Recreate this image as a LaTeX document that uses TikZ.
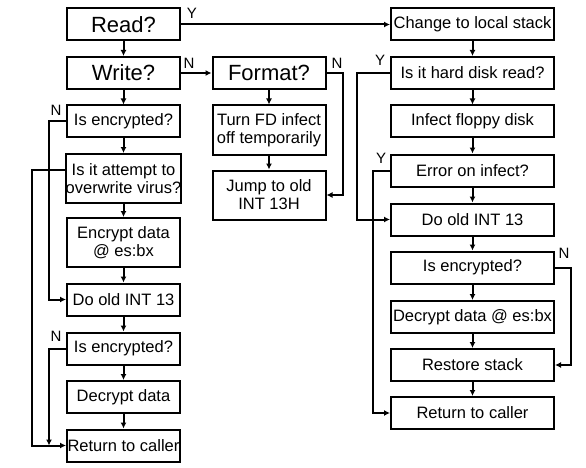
\documentclass[tikz,border=0pt]{standalone}
\usepackage{fontspec}
\setmainfont{Liberation Sans}
\usetikzlibrary{arrows.meta}

\tikzset{
  box/.style={draw, line width=2pt, inner sep=0pt, align=center,
    minimum width=113pt, minimum height=32pt, font=\fontsize{16.5}{18}\selectfont},
  bigbox/.style={box, font=\fontsize{22}{24}\selectfont},
  tallbox/.style={box, minimum height=49pt},
  widebox/.style={box, minimum width=163pt},
  flow/.style={line width=2pt, -{Latex[length=6pt,width=6pt]}},
  yn/.style={inner sep=0pt, font=\fontsize{15}{15}\selectfont}
}

\begin{document}
\begin{tikzpicture}[x=1pt,y=-1pt]
  \useasboundingbox (0,0) rectangle (586,468);

  % left column
  \node[bigbox] (read) at (123.5,24.5) {Read?};
  \node[bigbox] (write) at (123.5,73) {Write?};
  \node[box] (enc1) at (123.5,121.5) {Is encrypted?};
  \node[tallbox] (attempt) at (123.5,178.5) {Is it attempt to\\overwrite virus?};
  \node[tallbox] (encrypt) at (123.5,242.5) {Encrypt data\\@ es:bx};
  \node[box] (doold1) at (123.5,299.5) {Do old INT 13};
  \node[box] (enc2) at (123.5,348.5) {Is encrypted?};
  \node[box] (decrypt1) at (123.5,397) {Decrypt data};
  \node[box] (ret1) at (123.5,445.5) {Return to caller};

  % middle column
  \node[bigbox] (format) at (269,73) {Format?};
  \node[tallbox] (turnfd) at (269,130) {Turn FD infect\\off temporarily};
  \node[tallbox] (jump) at (269,195) {Jump to old\\INT 13H};

  % right column
  \node[widebox] (change) at (472.5,24.5) {Change to local stack};
  \node[widebox] (hard) at (472.5,73) {Is it hard disk read?};
  \node[widebox] (infect) at (472.5,121.5) {Infect floppy disk};
  \node[widebox] (error) at (472.5,170.5) {Error on infect?};
  \node[widebox] (doold2) at (472.5,219.5) {Do old INT 13};
  \node[widebox] (enc3) at (472.5,267.5) {Is encrypted?};
  \node[widebox] (decrypt2) at (472.5,317) {Decrypt data @ es:bx};
  \node[widebox] (restore) at (472.5,365) {Restore stack};
  \node[widebox] (ret2) at (472.5,413) {Return to caller};

  % straight down
  \foreach \a/\b in {read/write, write/enc1, enc1/attempt, attempt/encrypt,
      encrypt/doold1, doold1/enc2, enc2/decrypt1, decrypt1/ret1,
      format/turnfd, turnfd/jump,
      change/hard, hard/infect, infect/error, error/doold2, doold2/enc3,
      enc3/decrypt2, decrypt2/restore, restore/ret2}
    \draw[flow] (\a) -- (\b);

  % branches
  \draw[flow] (read.east) -- (change.west);
  \draw[flow] (write.east) -- (format.west);
  \draw[flow] (format.east) -- ++(16,0) |- (jump.east);
  \draw[flow] (enc1.west) -- ++(-17,0) |- (doold1.west);
  \draw[flow] ([yshift=8.5pt]attempt.west) -- ++(-33,0) |- (ret1.west);
  \draw[flow] (enc2.west) -| ([xshift=-17pt]ret1.west);
  \draw[flow] (hard.west) -- ++(-33,0) |- (doold2.west);
  \draw[flow] (error.west) -- ++(-17,0) |- (ret2.west);
  \draw[flow] (enc3.east) -- ++(16,0) |- (restore.east);

  % Y / N labels
  \node[yn] (yread) at (192,13) {Y};
  \node[yn] (nwrite) at (189,63) {N};
  \node[yn] (nformat) at (337,63) {N};
  \node[yn] (nenc1) at (56,110) {N};
  \node[yn] (nenc2) at (56,336) {N};
  \node[yn] (yhard) at (380,60) {Y};
  \node[yn] (yerror) at (381,158) {Y};
  \node[yn] (nenc3) at (564,253) {N};
\end{tikzpicture}
\end{document}
